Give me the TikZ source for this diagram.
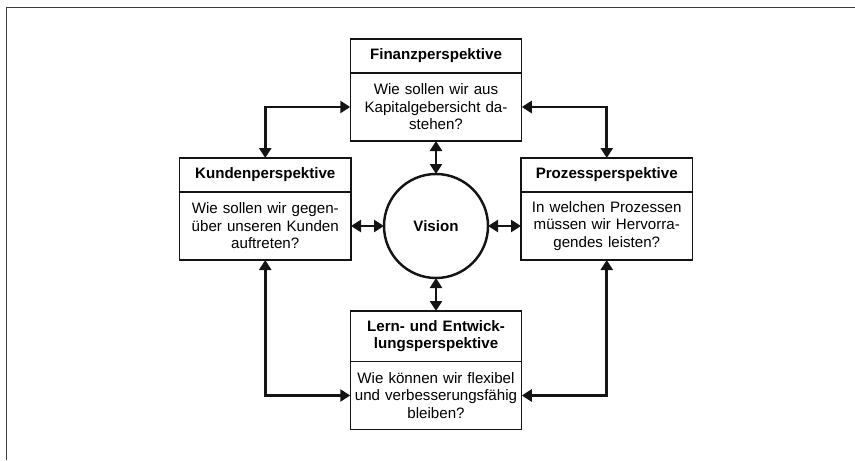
\documentclass[tikz,border=0pt]{standalone}
\usepackage{fontspec}
\setmainfont{Liberation Sans}
\usepackage{xcolor}
\usepackage{tikz}
\usetikzlibrary{positioning,arrows.meta}
\definecolor{bsline}{RGB}{20,20,20}
\definecolor{bsframe}{RGB}{60,60,60}
\tikzset{
  head/.style={draw=bsline, line width=0.8pt, minimum width=3.43cm,
               minimum height=0.68cm, text width=3.3cm, align=center,
               inner sep=0pt, outer sep=0pt,
               font=\fontsize{8.6}{10}\selectfont\bfseries},
  body/.style={head, minimum height=1.36cm,
               font=\fontsize{8.6}{10}\selectfont},
  vis/.style={circle, draw=bsline, line width=1.4pt, minimum size=2.08cm,
              inner sep=0pt, outer sep=0pt,
              font=\fontsize{8.6}{10}\selectfont\bfseries},
  link/.style={{Triangle[length=2mm,width=2.4mm]}-{Triangle[length=2mm,width=2.4mm]},
               line width=1.6pt, color=bsline},
}
\begin{document}
\begin{tikzpicture}[node distance=0.66cm]
\useasboundingbox (0,0) rectangle (17.1,9.2);
% frame
\draw[bsframe, line width=1.1pt] (0.13,0) -- (0.13,9.05) -- (17.1,9.05);

\node[vis] (vis) at (8.72,4.68) {Vision};

% perspectives
\node[body, above=of vis] (fbody) {Wie sollen wir aus\\Kapitalgebersicht da-\\stehen?};
\node[head, above=0pt of fbody] (fhead) {Finanzperspektive};

\node[body, left=of vis] (kbody) {Wie sollen wir gegen-\\über unseren Kunden\\auftreten?};
\node[head, above=0pt of kbody] (khead) {Kundenperspektive};

\node[body, right=of vis] (pbody) {In welchen Prozessen\\müssen wir Hervorra-\\gendes leisten?};
\node[head, above=0pt of pbody] (phead) {Prozessperspektive};

\node[head, below=of vis, minimum height=1.01cm] (lhead) {Lern- und Entwick-\\lungsperspektive};
\node[body, below=0pt of lhead] (lbody) {Wie können wir flexibel\\und verbesserungsfähig\\bleiben?};

% links to the vision
\draw[link] (fbody) -- (vis);
\draw[link] (kbody) -- (vis);
\draw[link] (pbody) -- (vis);
\draw[link] (lhead) -- (vis);

% links around
\draw[link] (fbody.west) -| (khead.north);
\draw[link] (fbody.east) -| (phead.north);
\draw[link] (kbody.south) |- (lbody.west);
\draw[link] (pbody.south) |- (lbody.east);
\end{tikzpicture}
\end{document}
